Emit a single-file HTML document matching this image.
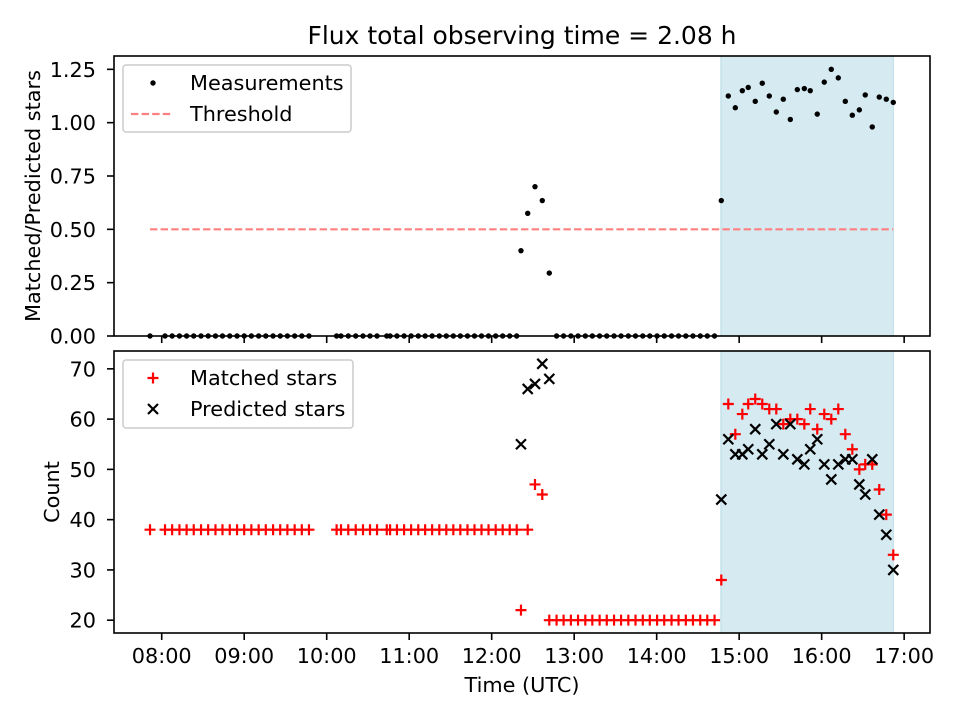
<!DOCTYPE html>
<html><head><meta charset="utf-8"><style>
body{margin:0;background:#fff}
svg{display:block;font-family:"DejaVu Sans","Liberation Sans",sans-serif}
</style></head><body>
<svg id="chart" width="960" height="720" viewBox="0 0 960 720" xmlns="http://www.w3.org/2000/svg">
<rect width="960" height="720" fill="#fff"/>
<text x="522" y="44" font-size="25" text-anchor="middle" fill="#000">Flux total observing time = 2.08 h</text>
<g id="top"></g>
<g id="bot"></g>
<text transform="translate(40,196) rotate(-90)" font-size="20.8" text-anchor="middle">Matched/Predicted stars</text>
<text transform="translate(59,492) rotate(-90)" font-size="20.8" text-anchor="middle">Count</text>
<text x="522" y="692" font-size="20.8" text-anchor="middle">Time (UTC)</text>
</svg>
<script>
// time in minutes since 00:00 UTC
const times = [471.5,482.4,487.6,492.9,498.1,503.3,508.6,513.8,519.1,524.2,529.5,534.8,540.0,545.2,550.5,555.7,561.0,566.2,571.4,576.7,581.9,587.1,
607.2,610.4,615.7,621.1,626.4,631.5,636.6,643.7,646.1,651.1,656.3,661.4,666.6,671.6,676.7,681.9,687.0,692.1,697.2,702.4,707.5,712.6,717.7,722.9,728.0,733.1,738.2,
741.3,746.2,751.5,756.8,
761.9,767.2,772.3,777.6,782.8,788.1,793.2,798.5,803.7,809.0,814.1,819.4,824.6,829.9,835.0,840.3,845.5,850.8,855.9,861.2,866.4,871.7,876.8,882.1,887.0,
892.1,897.2,902.3,906.6,911.7,916.8,921.9,927.0,932.1,937.2,942.3,947.4,951.7,956.8,961.9,967.0,972.1,977.2,982.3,987.4,991.7,996.8,1001.9,1007.0,1012.1];
const ratio = [0,0,0,0,0,0,0,0,0,0,0,0,0,0,0,0,0,0,0,0,0,0,
0,0,0,0,0,0,0,0,0,0,0,0,0,0,0,0,0,0,0,0,0,0,0,0,0,0,0,
0.40,0.575,0.70,0.635,
0.295,0,0,0,0,0,0,0,0,0,0,0,0,0,0,0,0,0,0,0,0,0,0,0,0.635,
1.125,1.07,1.15,1.165,1.10,1.185,1.125,1.05,1.11,1.015,1.155,1.16,1.15,1.04,1.19,1.25,1.21,1.10,1.035,1.06,1.13,0.98,1.12,1.11,1.095];
const matched = [38,38,38,38,38,38,38,38,38,38,38,38,38,38,38,38,38,38,38,38,38,38,
38,38,38,38,38,38,38,38,38,38,38,38,38,38,38,38,38,38,38,38,38,38,38,38,38,38,38,
22,38,47,45,
20,20,20,20,20,20,20,20,20,20,20,20,20,20,20,20,20,20,20,20,20,20,20,20,28,
63,57,61,63,64,63,62,62,59,60,60,59,62,58,61,60,62,57,54,50,51,51,46,41,33];
const predTimes = [741.3,746.2,751.5,756.8,761.9,887.0,
892.1,897.2,902.3,906.6,911.7,916.8,921.9,927.0,932.1,937.2,942.3,947.4,951.7,956.8,961.9,967.0,972.1,977.2,982.3,987.4,991.7,996.8,1001.9,1007.0,1012.1];
const predicted = [55,66,67,71,68,44,
56,53,53,54,58,53,55,59,53,59,52,51,54,56,51,48,51,52,52,47,45,52,41,37,30];
const threshold = 0.5;
const shadeSpan = [886.7, 1012.1];
const xTicks = [480,540,600,660,720,780,840,900,960,1020];
const xTickLabels = ["08:00","09:00","10:00","11:00","12:00","13:00","14:00","15:00","16:00","17:00"];
const topTicks = [0,0.25,0.5,0.75,1.0,1.25];
const topTickLabels = ["0.00","0.25","0.50","0.75","1.00","1.25"];
const botTicks = [20,30,40,50,60,70];
const botTickLabels = ["20","30","40","50","60","70"];

const NS="http://www.w3.org/2000/svg";
const L=114,R=930;
const xMin=445.3,xMax=1038.8;
const X=m=>L+(m-xMin)/(xMax-xMin)*(R-L);
const T={top:56,bot:336,min:0,max:1.3125};
const B={top:351,bot:633,min:17.45,max:73.55};
const Yt=v=>T.bot-(v-T.min)/(T.max-T.min)*(T.bot-T.top);
const Yb=v=>B.bot-(v-B.min)/(B.max-B.min)*(B.bot-B.top);
const TK=20.8, TL=7;
function mk(p,tag,a){const e=document.createElementNS(NS,tag);for(const k in a)e.setAttribute(k,a[k]);p.appendChild(e);return e;}
const gT=document.getElementById('top'),gB=document.getElementById('bot');

function shade(g,P){
  const r=mk(g,'rect',{x:X(shadeSpan[0]),y:P.top,width:X(shadeSpan[1])-X(shadeSpan[0]),height:P.bot-P.top,fill:'#d5eaf1',stroke:'#b9dbe6','stroke-width':1});
  
  
}
function axes(g,P,Y,ticks,labels,showX,prefix){
  ticks.forEach((v,i)=>{
    const t=mk(g,'line',{x1:L-TL,x2:L,y1:Y(v),y2:Y(v),stroke:'#000','stroke-width':1.6});
    
    
    const tx=mk(g,'text',{x:L-18,y:Y(v)+7.5,'font-size':TK,'text-anchor':'end'});
    tx.textContent=labels[i];
    
    
  });
  xTicks.forEach((v,i)=>{
    const t=mk(g,'line',{x1:X(v),x2:X(v),y1:P.bot,y2:P.bot+TL,stroke:'#000','stroke-width':1.6});
    
    
    if(showX){
      const tx=mk(g,'text',{x:X(v),y:P.bot+30,'font-size':TK,'text-anchor':'middle'});
      tx.textContent=xTickLabels[i];
      
      
    }
  });
  const f=mk(g,'rect',{x:L,y:P.top,width:R-L,height:P.bot-P.top,fill:'none',stroke:'#000','stroke-width':1.6});
  
  
}
function plus(g,x,y){
  const p=mk(g,'path',{d:`M${x-5.5},${y}h11M${x},${y-5.5}v11`,stroke:'#ff0000','stroke-width':2.2});
  
  
}
function cross(g,x,y){
  const p=mk(g,'path',{d:`M${x-5},${y-5}L${x+5},${y+5}M${x-5},${y+5}L${x+5},${y-5}`,stroke:'#000','stroke-width':2.2});
  
  
}
function legend(g,x,y,w,h,items){
  const r=mk(g,'rect',{x:x,y:y,width:w,height:h,rx:3,fill:'#fff','fill-opacity':0.8,stroke:'#cccccc','stroke-width':1.5});
  
  
  items.forEach((it,i)=>{
    const cy=y+18+i*31;
    it.draw(x+30,cy);
    const t=mk(g,'text',{x:x+67,y:cy+7,'font-size':20.8});
    t.textContent=it.label;
    
    
  });
}

// top panel
shade(gT,T);
const th=mk(gT,'line',{x1:X(times[0]),x2:X(times[times.length-1]),y1:Yt(threshold),y2:Yt(threshold),stroke:'#ff8080','stroke-width':2.2,'stroke-dasharray':'7.4,3.2'});


times.forEach((t,i)=>{
  const c=mk(gT,'circle',{cx:X(t),cy:Yt(ratio[i]),r:2.7,fill:'#000'});
  
  
});
axes(gT,T,Yt,topTicks,topTickLabels,false,'top');
legend(gT,123,65,228,67,[
 {label:'Measurements',draw:(x,y)=>{const c=mk(gT,'circle',{cx:x,cy:y,r:2.7,fill:'#000'});}},
 {label:'Threshold',draw:(x,y)=>{const l=mk(gT,'line',{x1:x-22,x2:x+20,y1:y,y2:y,stroke:'#ff8080','stroke-width':2.2,'stroke-dasharray':'7.4,3.2'});}}
]);

// bottom panel
shade(gB,B);
times.forEach((t,i)=>plus(gB,X(t),Yb(matched[i])));
predTimes.forEach((t,i)=>cross(gB,X(t),Yb(predicted[i])));
axes(gB,B,Yb,botTicks,botTickLabels,true,'bottom');
legend(gB,123,360,230,68,[
 {label:'Matched stars',draw:(x,y)=>plus(gB,x,y)},
 {label:'Predicted stars',draw:(x,y)=>cross(gB,x,y)}
]);
</script>
</body></html>
